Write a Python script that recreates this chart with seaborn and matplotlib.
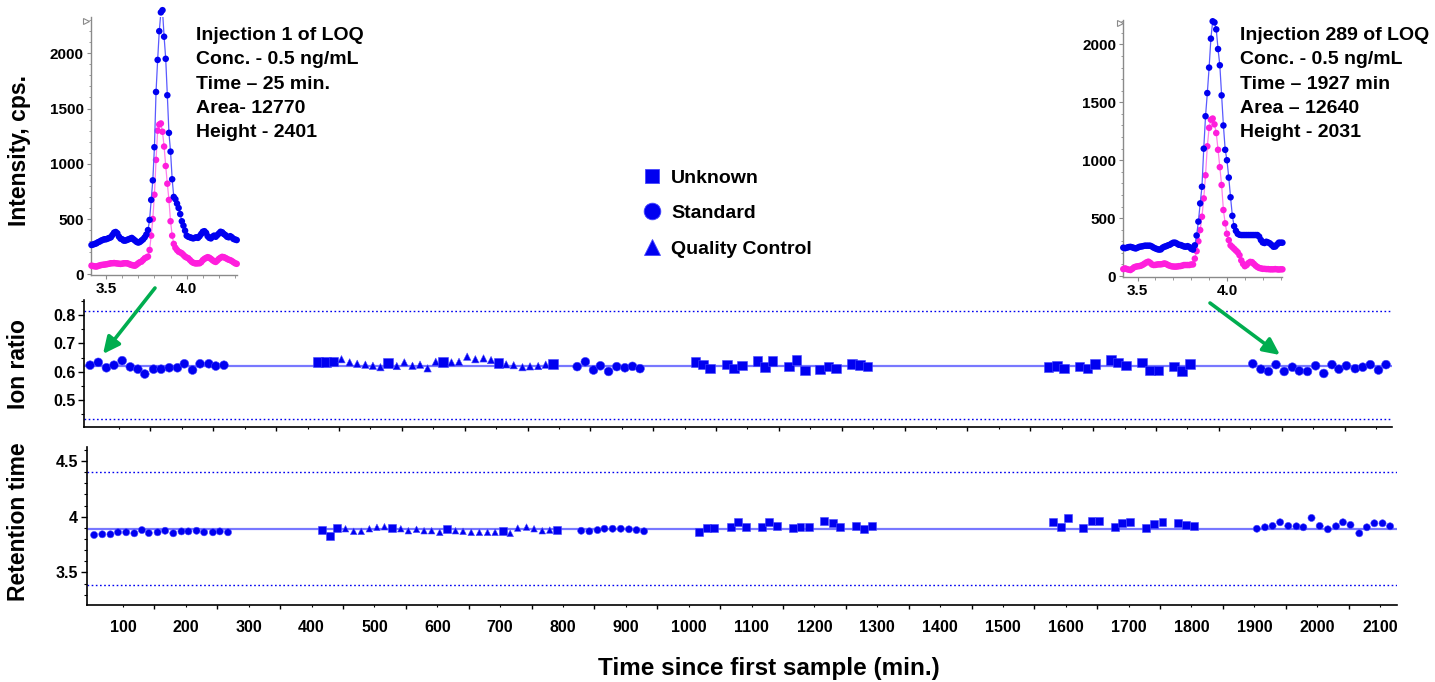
import numpy as np
import pandas as pd
import matplotlib
matplotlib.use("Agg")
import matplotlib.pyplot as plt
import seaborn as sns
from matplotlib.lines import Line2D
from matplotlib.patches import FancyArrowPatch
from matplotlib.ticker import MultipleLocator

W, H = 1435, 682

# ----------------------------------------------------------------------------
# run data: one entry per injection (time since first sample, min)
# ----------------------------------------------------------------------------
time_min = [
    # standards
    54, 67, 80, 92, 105, 118, 130, 141, 155, 167, 180, 193, 204, 217, 229, 243, 254, 267,
    # unknowns + QCs
    417, 429, 441, 454, 467, 479, 492, 504, 516, 528, 542, 554, 567, 579, 591, 604,
    616, 629, 641, 654, 667, 680, 692, 704, 716, 728, 742, 754, 767, 779, 791,
    # standards
    829, 842, 855, 866, 879, 892, 905, 917, 929,
    # unknowns
    1017, 1029, 1040, 1067, 1079, 1091, 1116, 1128, 1140, 1166, 1178, 1192, 1215, 1229,
    1241, 1266, 1279, 1291,
    # unknowns
    1579, 1592, 1604, 1628, 1641, 1653, 1678, 1690, 1702, 1728, 1740, 1754, 1779, 1791, 1804,
    # standards
    1904, 1917, 1929, 1941, 1954, 1967, 1978, 1991, 2004, 2017, 2030, 2041, 2053, 2067,
    2079, 2091, 2104, 2116,
]

ion_ratio = [
    0.623, 0.633, 0.614, 0.623, 0.639, 0.617, 0.609, 0.592, 0.609, 0.609, 0.614, 0.614,
    0.628, 0.606, 0.628, 0.628, 0.620, 0.623,
    0.635, 0.635, 0.636, 0.644, 0.633, 0.628, 0.625, 0.621, 0.616, 0.631, 0.620, 0.633,
    0.621, 0.625, 0.612, 0.635, 0.635, 0.633, 0.635, 0.653, 0.644, 0.647, 0.641, 0.631,
    0.626, 0.623, 0.616, 0.619, 0.620, 0.625, 0.628,
    0.618, 0.635, 0.606, 0.621, 0.601, 0.618, 0.614, 0.619, 0.611,
    0.635, 0.625, 0.612, 0.625, 0.612, 0.622, 0.638, 0.616, 0.638, 0.619, 0.641, 0.605,
    0.608, 0.618, 0.611, 0.628, 0.624, 0.619,
    0.616, 0.620, 0.612, 0.619, 0.612, 0.627, 0.641, 0.632, 0.622, 0.632, 0.605, 0.605,
    0.619, 0.603, 0.628,
    0.628, 0.609, 0.601, 0.625, 0.601, 0.616, 0.603, 0.601, 0.621, 0.594, 0.625, 0.609,
    0.621, 0.611, 0.616, 0.625, 0.606, 0.625,
]

ret_time = [
    3.836, 3.842, 3.842, 3.860, 3.860, 3.851, 3.880, 3.853, 3.860, 3.874, 3.851, 3.868,
    3.868, 3.874, 3.860, 3.860, 3.868, 3.860,
    3.880, 3.829, 3.898, 3.892, 3.869, 3.869, 3.892, 3.905, 3.910, 3.896, 3.892, 3.874,
    3.887, 3.874, 3.874, 3.860, 3.889, 3.874, 3.869, 3.860, 3.860, 3.860, 3.860, 3.874,
    3.851, 3.898, 3.907, 3.892, 3.874, 3.880, 3.880,
    3.874, 3.869, 3.880, 3.892, 3.892, 3.892, 3.887, 3.880, 3.869,
    3.860, 3.896, 3.902, 3.905, 3.956, 3.910, 3.905, 3.950, 3.920, 3.896, 3.908, 3.908,
    3.959, 3.944, 3.908, 3.920, 3.890, 3.917,
    3.950, 3.910, 3.992, 3.902, 3.959, 3.965, 3.908, 3.947, 3.953, 3.896, 3.932, 3.953,
    3.947, 3.929, 3.917,
    3.892, 3.905, 3.917, 3.950, 3.917, 3.914, 3.905, 3.989, 3.917, 3.887, 3.914, 3.950,
    3.926, 3.851, 3.905, 3.941, 3.941, 3.914,
]

U, S, Q = "Unknown", "Standard", "Quality Control"
sample_type = (
    [S] * 18
    + [U] * 3 + ([Q] * 6 + [U]) * 4
    + [S] * 9
    + [U] * 18
    + [U] * 15
    + [S] * 18
)

ion_center, ion_limits = 0.62, (0.433, 0.812)
rt_center, rt_limits = 3.889, (3.384, 4.404)

x_label_ticks = list(range(100, 2101, 100))

# ----------------------------------------------------------------------------
# chromatograms of the LOQ injections (scan times every 0.01 min)
# ----------------------------------------------------------------------------
left_time = np.arange(341, 432) / 100          # 3.41 .. 4.31
left_quant = [
    265, 270, 275, 280, 290, 296, 305, 311, 317, 317,
    323, 329, 335, 356, 377, 383, 371, 341, 323, 317,
    305, 305, 311, 317, 323, 329, 317, 305, 293, 287,
    293, 305, 317, 335, 360, 400, 492, 673, 850, 1150,
    1650, 1940, 2200, 2370, 2390, 2150, 1950, 1620, 1280, 1110,
    860, 700, 680, 640, 600, 545, 480, 440, 395, 350,
    340, 335, 330, 325, 330, 335, 330, 345, 365, 385,
    390, 375, 345, 330, 325, 340, 350, 340, 355, 370,
    385, 380, 365, 355, 340, 335, 345, 335, 320, 315,
    310,
]
left_qual = [
    78, 75, 72, 70, 75, 80, 84, 86, 88, 90,
    93, 96, 100, 100, 102, 100, 98, 96, 94, 96,
    100, 100, 100, 95, 88, 84, 80, 78, 88, 100,
    110, 115, 130, 145, 152, 160, 220, 350, 500, 720,
    1035, 1300, 1355, 1365, 1290, 1156, 980, 820, 673, 480,
    350, 275, 240, 220, 205, 198, 190, 175, 160, 152,
    145, 130, 115, 105, 100, 98, 100, 100, 110, 128,
    140, 148, 155, 150, 140, 128, 118, 112, 125, 140,
    150, 158, 155, 148, 140, 132, 128, 120, 110, 100,
    95,
]

right_time = np.arange(342, 432) / 100         # 3.42 .. 4.31
right_quant = [
    245, 240, 245, 250, 252, 248, 242, 238, 245, 252,
    255, 258, 262, 262, 262, 262, 255, 245, 238, 232,
    228, 230, 245, 253, 258, 265, 270, 280, 288, 288,
    280, 270, 268, 262, 255, 253, 258, 250, 235, 228,
    265, 350, 470, 627, 771, 1100, 1380, 1580, 1800, 2050,
    2200, 2190, 2130, 1960, 1820, 1560, 1300, 1090, 1000, 850,
    680, 520, 430, 390, 365, 356, 354, 354, 354, 354,
    354, 354, 354, 354, 354, 354, 340, 311, 290, 285,
    296, 290, 282, 268, 253, 255, 272, 288, 288, 288,
]
right_qual = [
    60, 66, 60, 55, 52, 62, 75, 81, 84, 86,
    90, 98, 108, 118, 124, 115, 100, 95, 96, 100,
    101, 101, 104, 109, 104, 95, 89, 84, 82, 81,
    82, 85, 86, 90, 95, 95, 95, 95, 100, 100,
    150, 215, 300, 397, 512, 670, 870, 1120, 1280, 1350,
    1360, 1310, 1235, 1090, 940, 786, 570, 455, 365, 310,
    265, 250, 235, 220, 205, 180, 135, 105, 85, 95,
    112, 122, 120, 105, 90, 78, 70, 66, 62, 62,
    60, 60, 58, 58, 58, 60, 58, 56, 58, 58,
]

left_note = "Injection 1 of LOQ\nConc. - 0.5 ng/mL\nTime \u2013 25 min.\nArea- 12770\nHeight - 2401"
right_note = "Injection 289 of LOQ\nConc. - 0.5 ng/mL\nTime \u2013 1927 min\nArea \u2013 12640\nHeight - 2031"

# ----------------------------------------------------------------------------
# style
# ----------------------------------------------------------------------------
BLUE = "#0000f0"
EDGE = "#4646ff"
CENTER = "#7878ff"
PINK = "#ff1edc"
PINK_LINE = "#ff80ec"
LINE_BLUE = "#5a5aff"
GREEN = "#00ad4f"
GRAY = "#8a8a8a"

sns.set_style("ticks")
plt.rcParams["font.family"] = ["Liberation Sans", "DejaVu Sans"]
plt.rcParams["font.weight"] = "bold"
plt.rcParams["axes.labelweight"] = "bold"
plt.rcParams["text.color"] = "black"
plt.rcParams["axes.labelcolor"] = "black"
plt.rcParams["xtick.color"] = "black"
plt.rcParams["ytick.color"] = "black"

fig = plt.figure(figsize=(W / 100, H / 100), dpi=100)


def px_axes(left, top, right, bottom):
    return fig.add_axes([left / W, 1 - bottom / H, (right - left) / W, (bottom - top) / H])


df = pd.DataFrame({"time": time_min, "ion": ion_ratio, "rt": ret_time, "type": sample_type})
marker_map = {U: "s", S: "o", Q: "^"}

# ----------------------------------------------------------------------------
# ion ratio panel
# ----------------------------------------------------------------------------
ax_ion = px_axes(84, 300, 1392, 427)
ax_ion.axhline(ion_center, color=CENTER, lw=1.6, zorder=1)
for lim in ion_limits:
    ax_ion.axhline(lim, color=BLUE, lw=1.0, ls=(0, (1.2, 1.8)), zorder=1)
sns.scatterplot(data=df, x="time", y="ion", style="type", markers=marker_map,
                size="type", sizes={U: 48, S: 40, Q: 28}, color=BLUE,
                edgecolor=EDGE, linewidth=0.4, legend=False, ax=ax_ion, zorder=3)
ax_ion.set_xlim(44.3, 2125.5)
ax_ion.set_ylim(0.406, 0.852)
ax_ion.set_yticks([0.5, 0.6, 0.7, 0.8])
ax_ion.yaxis.set_minor_locator(MultipleLocator(0.05))
ax_ion.set_xticks(list(range(150, 2101, 100)))
ax_ion.set_xticks(x_label_ticks, minor=True)
ax_ion.tick_params(axis="x", which="both", labelbottom=False)
ax_ion.set_xlabel("")
ax_ion.set_ylabel("Ion ratio", fontsize=16.5)
ax_ion.yaxis.set_label_coords((19 - 84) / 1308, 0.496)
ax_ion.yaxis.label.set_va("center")

# ----------------------------------------------------------------------------
# retention time panel
# ----------------------------------------------------------------------------
ax_rt = px_axes(86.7, 446.7, 1397, 605)
ax_rt.axhline(rt_center, color=CENTER, lw=1.6, zorder=1)
for lim in rt_limits:
    ax_rt.axhline(lim, color=BLUE, lw=1.0, ls=(0, (1.2, 1.8)), zorder=1)
sns.scatterplot(data=df, x="time", y="rt", style="type", markers=marker_map,
                size="type", sizes={U: 32, S: 26, Q: 22}, color=BLUE,
                edgecolor=EDGE, linewidth=0.4, legend=False, ax=ax_rt, zorder=3)
ax_rt.set_xlim(42.2, 2127)
ax_rt.set_ylim(3.207, 4.629)
ax_rt.set_yticks([3.5, 4.0, 4.5], labels=["3.5", "4", "4.5"])
ax_rt.yaxis.set_minor_locator(MultipleLocator(0.1))
ax_rt.set_xticks(list(range(150, 2101, 100)), labels=[])
ax_rt.set_xticks(x_label_ticks, labels=[str(v) for v in x_label_ticks], minor=True)
ax_rt.set_ylabel("Retention time", fontsize=16.5)
ax_rt.yaxis.set_label_coords((19 - 86.7) / 1310.3, 0.526)
ax_rt.yaxis.label.set_va("center")
ax_rt.set_xlabel("Time since first sample (min.)", fontsize=17.5)
ax_rt.xaxis.set_label_coords((769 - 86.7) / 1310.3, (605 - 669) / 158.3)
ax_rt.xaxis.label.set_va("center")

for ax in (ax_ion, ax_rt):
    sns.despine(ax=ax)
    for side in ("left", "bottom"):
        ax.spines[side].set_color("black")
        ax.spines[side].set_linewidth(1.2)
    ax.tick_params(axis="y", which="major", length=4.3, width=1, pad=2, labelsize=11.5, color="black")
    ax.tick_params(axis="y", which="minor", length=2, width=0.8, color="black")
    ax.tick_params(axis="x", which="major", length=3, width=1, color="black")
    ax.tick_params(axis="x", which="minor", length=1.5, width=0.8, color="black",
                   pad=9.5, labelsize=11.5)

# ----------------------------------------------------------------------------
# chromatogram insets
# ----------------------------------------------------------------------------
ax_l = px_axes(90.7, 16.7, 236.7, 275.3)
ax_r = px_axes(1123.3, 20, 1282.4, 277.3)

for ax, t, quant, qual in ((ax_l, left_time, left_quant, left_qual),
                           (ax_r, right_time, right_quant, right_qual)):
    sns.lineplot(x=t, y=qual, color=PINK_LINE, lw=0.9, ax=ax, zorder=2)
    sns.scatterplot(x=t, y=qual, color=PINK, s=22, edgecolor="none", ax=ax, zorder=3, clip_on=False)
    sns.lineplot(x=t, y=quant, color=LINE_BLUE, lw=0.9, ax=ax, zorder=4)
    sns.scatterplot(x=t, y=quant, color=BLUE, s=22, edgecolor="none", ax=ax, zorder=5, clip_on=False)
    ax.set_xticks([3.5, 4.0], labels=["3.5", "4.0"])
    ax.xaxis.set_minor_locator(MultipleLocator(0.1))
    ax.set_yticks([0, 500, 1000, 1500, 2000])
    ax.yaxis.set_minor_locator(MultipleLocator(100))
    sns.despine(ax=ax)
    for side in ("left", "bottom"):
        ax.spines[side].set_color(GRAY)
        ax.spines[side].set_linewidth(1.0)
    ax.tick_params(which="major", length=3, width=0.8, color=GRAY, labelcolor="black",
                   labelsize=11, pad=2)
    ax.tick_params(which="minor", length=1.8, width=0.6, color=GRAY)
    ax.set_xlabel("")
    ax.set_ylabel("")
    ax.patch.set_alpha(0)

ax_l.set_xlim(3.405, 4.31)
ax_l.set_ylim(-9, 2331)
ax_r.set_xlim(3.42, 4.31)
ax_r.set_ylim(-11, 2211)

ax_l.set_ylabel("Intensity, cps.", fontsize=16.5)
ax_l.yaxis.set_label_coords((20 - 90.7) / 146, 0.4845)
ax_l.yaxis.label.set_va("center")

# ----------------------------------------------------------------------------
# overlay: notes, arrows, legend
# ----------------------------------------------------------------------------
ov = fig.add_axes([0, 0, 1, 1], zorder=10)
ov.set_xlim(0, W)
ov.set_ylim(H, 0)
ov.axis("off")
ov.patch.set_alpha(0)

ov.text(196, 27, left_note, ha="left", va="top", fontsize=14, linespacing=1.56)
ov.text(1240, 27, right_note, ha="left", va="top", fontsize=14, linespacing=1.56)

for tail, head in (((155, 288), (103, 354)), ((1210, 303), (1280, 355))):
    ov.add_patch(FancyArrowPatch(tail, head, arrowstyle="-|>,head_length=0.5,head_width=0.24",
                                 mutation_scale=20, lw=2.6, color=GREEN, shrinkA=0, shrinkB=0))

for x, y in ((86, 21), (1120, 23)):
    ov.plot(x, y, marker=">", ms=5, mfc="white", mec=GRAY, mew=0.8)

handles = [
    Line2D([], [], ls="", marker="s", ms=9.5, color=BLUE, mec=EDGE, mew=0.6),
    Line2D([], [], ls="", marker="o", ms=12, color=BLUE, mec=EDGE, mew=0.6),
    Line2D([], [], ls="", marker="^", ms=11, color=BLUE, mec=EDGE, mew=0.6),
]
fig.legend(handles, [U, S, Q], loc="upper left", bbox_to_anchor=(642 / W, 1 - 169 / H),
           frameon=False, prop={"size": 14, "weight": "bold"}, handlelength=1.0,
           handletextpad=0.5, labelspacing=0.92, borderpad=0, borderaxespad=0)

fig.savefig("out.png", dpi=100)
